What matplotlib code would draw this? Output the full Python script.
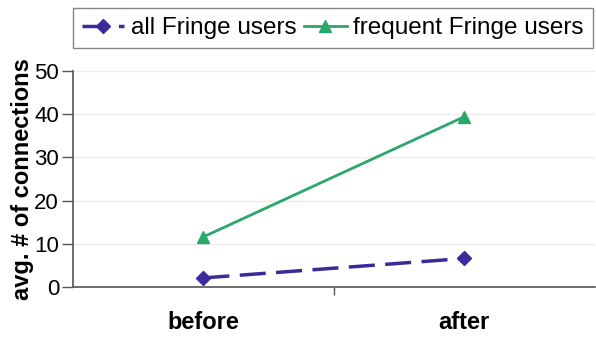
import matplotlib
matplotlib.use("Agg")
import matplotlib.pyplot as plt
from matplotlib.ticker import FixedLocator

plt.rcParams['font.family'] = ['Liberation Sans', 'DejaVu Sans']

categories = ["before", "after"]
all_users = [2.1, 6.6]
frequent_users = [11.6, 39.4]
y_ticks = [0, 10, 20, 30, 40, 50]

fig = plt.figure(figsize=(5.96, 3.41), dpi=100)
ax = fig.add_axes([0.1225, 0.1584, 0.875, 0.6334])

x = list(range(len(categories)))
ax.plot(x, all_users, color="#3a2a9a", lw=2.5, ls=(0, (7.5, 3)), marker="D",
        ms=7, label="all Fringe users", zorder=3)
ax.plot(x, frequent_users, color="#2aa86a", lw=2, marker="^",
        ms=9, label="frequent Fringe users", zorder=3)

ax.set_xlim(-0.5, 1.5)
ax.set_ylim(0, 50)
ax.set_yticks(y_ticks)
ax.yaxis.grid(True, color="#ececec", lw=1)
ax.set_axisbelow(True)

ax.set_xticks(x)
ax.set_xticklabels(categories, fontsize=17, fontweight="bold")
ax.tick_params(axis="x", length=0, pad=17)
ax.xaxis.set_minor_locator(FixedLocator([0.5]))
ax.tick_params(axis="x", which="minor", length=6, color="#555555", width=1)
ax.tick_params(axis="y", labelsize=16, length=8, color="#555555", width=1, pad=2)

for side in ["top", "right"]:
    ax.spines[side].set_visible(False)
for side in ["left", "bottom"]:
    ax.spines[side].set_color("#555555")
    ax.spines[side].set_linewidth(1.2)

ax.set_ylabel("avg. # of connections", fontsize=17, fontweight="bold", labelpad=0)

leg = fig.legend(loc="upper left", bbox_to_anchor=(0.122, 0.9765), ncol=2,
                 fontsize=17.5, frameon=True, fancybox=False, edgecolor="#666666",
                 handlelength=1.75, handletextpad=0.25, columnspacing=0.33,
                 borderpad=0.38, borderaxespad=0)
leg.get_frame().set_linewidth(1)

fig.savefig("out.png", dpi=100)
